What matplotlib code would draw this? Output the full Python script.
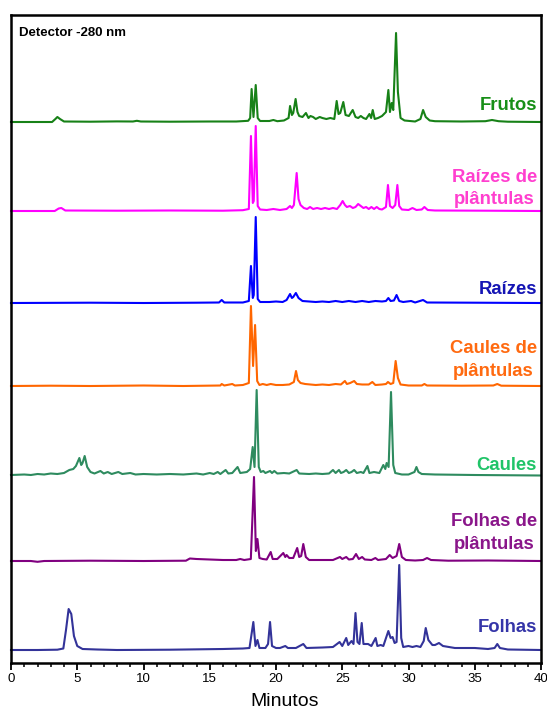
import matplotlib
matplotlib.use("Agg")
import matplotlib.pyplot as plt
from matplotlib.ticker import MultipleLocator

plt.rcParams['font.family'] = ['Liberation Sans', 'DejaVu Sans']

# ---- data: (retention time [min], detector response [a.u.]) ----
frutos = [(0,0),(3.1,0),(3.35,3),(3.5,5),(3.7,3),(4.0,0.5),(6.0,0.3),(8.0,0.6),(9.2,0.5),(9.5,1.2),(9.8,0.5),
          (12,0.3),(15,0.5),(17.0,0.5),(17.9,1.2),(18.05,4),(18.16,33),(18.3,5),(18.47,37),(18.62,4),(18.8,1),
          (19.5,1),(19.8,2),(20.1,0.8),(20.6,1.5),(20.95,4),(21.06,16),(21.2,7),(21.3,9),(21.48,23),(21.62,10),
          (21.75,6),(22.0,5),(22.26,9),(22.45,4),(22.6,6),(22.8,5),(23.0,3),(23.3,5),(23.5,4),(23.8,3),(24.1,4),
          (24.4,3),(24.58,21),(24.72,8),(24.85,9),(25.08,20),(25.25,7),(25.5,6),(25.79,12),(26.0,5),(26.2,4),
          (26.4,6),(26.6,4),(26.8,3),(27.05,8),(27.18,4),(27.3,12),(27.45,3),(27.7,4),(28.0,6),(28.3,10),
          (28.48,32),(28.6,10),(28.73,19),(28.85,12),(29.06,89),(29.2,30),(29.4,4),(29.7,1.5),(30.1,1),
          (30.5,0.5),(30.9,3),(31.1,12),(31.3,5),(31.6,1.5),(32.0,0.8),(34.0,0.5),(35.8,0.8),(36.3,2),
          (36.8,0.8),(37.5,0.3),(40,0)]

raizes_plantulas = [(0,0),(3.3,0),(3.6,2.5),(3.8,3),(4.1,0.5),(8,0.3),(12,0.5),(16,0.3),(17.5,0.8),(17.95,2),
          (18.11,75),(18.25,8),(18.32,10),(18.47,85),(18.62,5),(18.8,1.5),(19.3,1),(19.8,2),(20.3,1),(20.8,2),
          (21.06,5),(21.2,3),(21.35,6),(21.56,38),(21.7,12),(21.85,6),(22.1,3),(22.35,2),(22.57,4),(22.8,2),
          (23.1,3),(23.4,2),(23.7,3),(24.0,2),(24.3,3),(24.6,2),(24.85,6),(25.03,10),(25.2,6),(25.35,4),
          (25.58,5),(25.8,3),(26.0,4),(26.2,7),(26.4,5),(26.6,3),(26.8,4),(27.0,2),(27.2,4),(27.4,2),(27.6,4),
          (27.8,2),(28.0,1.5),(28.3,4),(28.45,26),(28.6,5),(28.8,3),(29.0,6),(29.16,26),(29.3,5),(29.5,1.5),
          (30.0,1),(30.3,3),(30.6,1),(31.0,1.5),(31.2,4),(31.45,1),(32,0.5),(36,0.3),(40,0)]

raizes = [(0,0),(6,0.3),(10,0),(14,0.3),(15.7,0.5),(15.9,3),(16.1,0.5),(17.5,0.5),(17.95,2),(18.11,37),
          (18.25,5),(18.32,8),(18.47,86),(18.62,4),(18.8,1),(19.5,1),(20.0,1.5),(20.5,1),(20.8,3),(21.06,9),
          (21.2,5),(21.3,6),(21.5,10),(21.7,5),(22.0,2),(22.5,1.5),(23.0,1),(23.5,1.5),(24.0,1),(24.5,2),
          (25.0,1),(25.5,2),(26.0,1),(26.5,2),(27.0,1),(27.5,2),(28.0,1.5),(28.3,2),(28.48,5),(28.65,2),
          (28.9,2.5),(29.1,8),(29.3,2),(29.6,1),(30.2,2),(30.5,0.5),(31.1,3),(31.4,0.5),(35,0.3),(40,0)]

caules_plantulas = [(0,0),(3,0.3),(6,0),(10,0.5),(13,0),(15.8,0.5),(15.9,2),(16.1,0.5),(16.7,2),(16.9,0.5),
          (17.5,1),(17.95,3),(18.11,80),(18.27,20),(18.42,61),(18.58,5),(18.75,1),(19.0,2),(19.3,1),(19.6,2),
          (20.0,1),(20.5,1),(21.0,1.5),(21.35,4),(21.51,15),(21.65,6),(21.85,3),(22.2,2),(22.6,1.5),(23.0,1),
          (23.5,1.5),(24.0,1),(24.5,2),(24.9,1.5),(25.2,5),(25.35,2),(25.6,3),(25.9,5),(26.1,2),(26.5,1.5),
          (27.0,1.5),(27.27,4),(27.5,1),(28.0,1.5),(28.3,2),(28.45,4),(28.65,2),(28.85,3),(29.03,25),(29.2,8),
          (29.4,1.5),(30.0,0.5),(31.0,0.5),(31.2,2),(31.4,0.5),(34,0.3),(36.4,0.5),(36.7,2),(37.0,0.3),(40,0)]

caules = [(0,0),(1,0.5),(1.5,0),(2,1),(2.5,0.5),(3.0,1.5),(3.5,1),(4.0,2),(4.4,5),(4.7,6),(4.9,9),(5.16,17),
          (5.3,10),(5.4,12),(5.56,19),(5.75,8),(6.0,3),(6.3,1.5),(6.75,4),(7.0,1.5),(7.3,3),(7.6,1),(8.1,3),
          (8.4,1),(9.0,2),(9.4,0.5),(10,1),(11,0.5),(12,1),(13,0.5),(14,1.5),(14.5,0.5),(15.0,2),(15.3,1),
          (15.6,3),(15.8,1),(16.2,5),(16.4,1.5),(16.7,2),(17.1,8),(17.3,2),(17.8,3),(18.05,6),(18.24,28),
          (18.38,8),(18.54,85),(18.7,8),(18.85,3),(19.04,4),(19.2,2),(19.55,4),(19.7,2),(19.87,4),(20.1,1.5),
          (20.6,2),(21.0,1.5),(21.56,5),(21.75,1.5),(22.5,1),(23.0,1.5),(23.5,1),(24.0,1.5),(24.3,5),(24.5,2),
          (24.75,5),(24.9,2),(25.1,3),(25.3,5),(25.5,2),(25.7,3),(25.9,5),(26.1,2),(26.4,3),(26.6,2),(26.9,9),
          (27.05,2),(27.4,3),(27.8,2),(28.1,10),(28.25,6),(28.35,12),(28.5,8),(28.68,83),(28.85,10),(29.0,2),
          (29.5,0.5),(30.0,0.5),(30.45,3),(30.6,8),(30.75,3),(31.0,1),(32,0.5),(35,0),(40,-0.5)]

folhas_plantulas = [(0,0),(1.5,0),(2.0,-0.8),(2.5,0),(6,0.3),(10,0),(13.2,0.3),(13.5,2.5),(14,2),(15,1.5),
          (16,1),(17.0,1),(17.3,2),(17.6,1),(18.1,2),(18.34,84),(18.48,10),(18.6,22),(18.75,3),(19.0,2),
          (19.3,1.5),(19.6,9),(19.75,2),(20.1,2),(20.55,8),(20.7,4),(20.8,6),(21.0,3),(21.3,3),(21.6,13),
          (21.75,4),(21.9,5),(22.06,17),(22.25,4),(22.5,1),(23.5,1),(24.3,1),(24.83,4),(25.0,2),(25.3,4),
          (25.5,1.5),(25.8,2),(26.04,7),(26.25,2),(26.5,4),(26.7,1.5),(27.2,1),(27.5,3),(27.7,1),(28.3,2),
          (28.58,6),(28.8,3),(29.1,5),(29.3,17),(29.5,4),(29.8,1),(30.5,0.5),(31.1,1),(31.4,3),(31.7,1),
          (33,0.3),(36,0.5),(40,0)]

folhas = [(0,0),(2,0),(3.5,0.3),(3.95,1.5),(4.15,20),(4.35,41),(4.55,36),(4.75,14),(5.0,4),(5.4,1),(6.5,0.5),
          (8,0),(12,0.3),(16,1),(17.5,1.5),(18.0,2),(18.29,28),(18.45,4),(18.6,10),(18.75,2),(19.2,2),(19.4,6),
          (19.55,28),(19.7,4),(20.0,2),(20.3,2),(20.7,4),(20.9,2),(21.5,2),(22.06,6),(22.3,2),(23.5,2.5),
          (24.3,3),(24.6,6),(24.8,8),(25.0,4),(25.3,12),(25.45,5),(25.7,9),(25.85,6),(26.0,37),(26.15,8),
          (26.3,6),(26.47,27),(26.6,6),(26.95,6),(27.2,4),(27.52,12),(27.65,4),(27.9,5),(28.1,4),(28.48,19),
          (28.65,12),(28.8,13),(28.95,7),(29.1,8),(29.3,85),(29.45,12),(29.6,3),(30.0,4),(30.3,3),(30.6,4),
          (30.9,3),(31.15,9),(31.3,22),(31.5,10),(31.8,5),(32.0,5),(32.3,7),(32.6,4),(33.5,2),(35.0,2),
          (36.0,1),(36.5,2),(36.7,6),(36.9,2),(37.5,0.5),(40,0)]

series = [frutos, raizes_plantulas, raizes, caules_plantulas, caules, folhas_plantulas, folhas]
labels = ["Frutos", "Raízes de\nplântulas", "Raízes", "Caules de\nplântulas", "Caules",
          "Folhas de\nplântulas", "Folhas"]
x_ticks = [0, 5, 10, 15, 20, 25, 30, 35, 40]

# ---- layout / style ----
offsets = [541, 452, 360, 277, 188, 102, 13]
label_y = [557, 474.5, 373, 303, 198, 130, 35]
line_colors = ["#178117", "#ff00ff", "#0000ff", "#ff6600", "#2e8b5f", "#800080", "#333399"]
label_colors = ["#178f17", "#ff3fcf", "#1414b4", "#ff6a10", "#20c468", "#8a168a", "#3535a8"]

W, H = 547, 711
fig = plt.figure(figsize=(W / 100, H / 100), dpi=100)
ax = fig.add_axes([11 / W, (H - 663) / H, 530 / W, 648 / H])

for data, off, col in zip(series, offsets, line_colors):
    t = [p[0] for p in data]
    v = [p[1] + off for p in data]
    ax.plot(t, v, color=col, lw=1.5, solid_joinstyle='round', clip_on=False, zorder=2)

for lab, ly, col in zip(labels, label_y, label_colors):
    ax.text(39.7, ly, lab, ha='right', va='center', multialignment='center',
            fontsize=13.3, fontweight='bold', color=col, linespacing=1.4, zorder=3)

ax.text(0.015, 0.972, "Detector -280 nm", transform=ax.transAxes, ha='left', va='center',
        fontsize=9.5, fontweight='bold', color='black')

ax.set_xlim(0, 40)
ax.set_ylim(0, 648)
ax.set_xticks(x_ticks)
ax.xaxis.set_minor_locator(MultipleLocator(1))
ax.set_yticks([])
ax.tick_params(axis='x', which='major', direction='out', length=5, width=1.3, labelsize=9.5, pad=2)
ax.tick_params(axis='x', which='minor', direction='out', length=3, width=1.1)
for s in ax.spines.values():
    s.set_linewidth(1.8)
    s.set_color('black')

fig.text(285 / W, 1 - 702 / H, "Minutos", ha='center', va='center', fontsize=14)

fig.savefig("out.png", dpi=100)
